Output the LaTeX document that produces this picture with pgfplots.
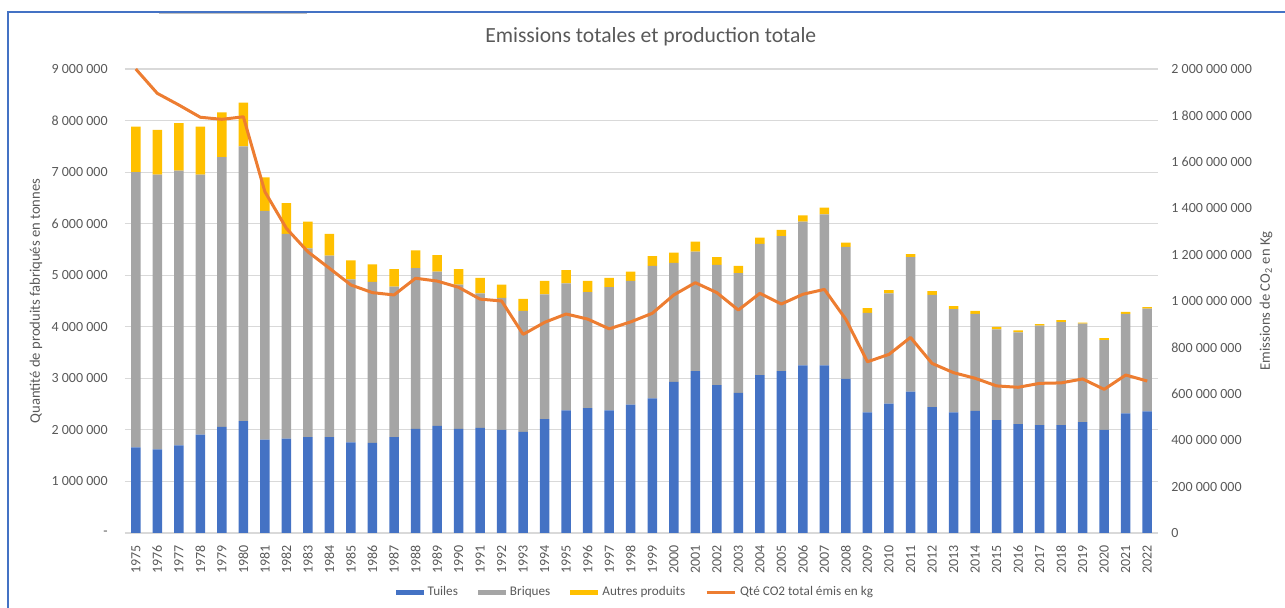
\documentclass[border=0pt]{standalone}
\usepackage{fontspec}
\setmainfont{Carlito}
\usepackage{pgfplots}
\usepackage{pgfplotstable}
\pgfplotsset{compat=1.18}

\definecolor{tuiles}{HTML}{4472C4}
\definecolor{briques}{HTML}{A5A5A5}
\definecolor{autres}{HTML}{FFC000}
\definecolor{co2}{HTML}{ED7D31}
\definecolor{txt}{HTML}{595959}
\definecolor{gridc}{HTML}{D9D9D9}
\definecolor{frame}{HTML}{4472C4}

% production in millions of tonnes, emissions in millions of kg
\pgfplotstableread{
year tuiles briques autres co2
1975 1.66 5.34 0.88 2000
1976 1.62 5.33 0.87 1895
1977 1.70 5.33 0.92 1845
1978 1.91 5.04 0.93 1792
1979 2.06 5.23 0.87 1783
1980 2.17 5.33 0.85 1794
1981 1.81 4.44 0.65 1471
1982 1.83 3.97 0.60 1313
1983 1.86 3.66 0.52 1212
1984 1.86 3.52 0.42 1141
1985 1.76 3.16 0.37 1069
1986 1.75 3.12 0.34 1036
1987 1.86 2.92 0.34 1026
1988 2.02 3.12 0.34 1098
1989 2.08 2.99 0.32 1086
1990 2.02 2.80 0.30 1059
1991 2.04 2.61 0.30 1008
1992 2.00 2.56 0.26 1000
1993 1.96 2.35 0.23 856
1994 2.21 2.42 0.26 908
1995 2.38 2.46 0.26 944
1996 2.42 2.25 0.22 922
1997 2.38 2.39 0.18 880
1998 2.49 2.40 0.18 910
1999 2.61 2.57 0.19 947
2000 2.93 2.31 0.20 1026
2001 3.14 2.32 0.19 1079
2002 2.87 2.33 0.15 1036
2003 2.72 2.32 0.14 961
2004 3.06 2.55 0.12 1033
2005 3.14 2.62 0.12 987
2006 3.25 2.79 0.12 1029
2007 3.25 2.93 0.13 1050
2008 2.99 2.56 0.08 920
2009 2.34 1.93 0.09 738
2010 2.51 2.14 0.06 770
2011 2.74 2.61 0.06 843
2012 2.44 2.18 0.07 731
2013 2.34 2.00 0.06 691
2014 2.37 1.88 0.06 667
2015 2.19 1.76 0.05 634
2016 2.11 1.78 0.04 628
2017 2.09 1.93 0.03 645
2018 2.09 2.00 0.04 647
2019 2.15 1.91 0.02 664
2020 2.00 1.74 0.04 619
2021 2.32 1.93 0.04 681
2022 2.36 1.99 0.03 655
}\data

\pgfplotsset{
  base/.style={
    scale only axis, width=516.5pt, height=232pt,
    at={(62.5pt,37.5pt)}, anchor=south west,
    xmin=1974.5, xmax=2022.5,
    major tick length=0pt,
    axis line style={draw=none},
    tick label style={font=\fontsize{7}{8}\selectfont, text=txt},
    label style={font=\fontsize{7.3}{9}\selectfont, text=txt},
    /pgf/number format/set thousands separator={},
    /pgf/number format/assume math mode=true,
  },
  barleg/.style={legend image code/.code={\fill[##1] (0pt,-1.3pt) rectangle (14pt,1.3pt);}},
  lineleg/.style={legend image code/.code={\draw[##1] (0pt,0pt) -- (14pt,0pt);}},
}

\begin{document}
\begin{tikzpicture}
\useasboundingbox (0,0) rectangle (642.5pt,304pt);
\draw[gray!50, line width=0.8pt] (79.5pt,297.2pt) -- (153.5pt,297.2pt);
\draw[frame, line width=0.8pt] (4pt,0pt) -- (4pt,298pt) -- (642.5pt,298pt);

\begin{axis}[base,
  ybar stacked, bar width=4.75pt,
  ymin=0, ymax=9, clip=false,
  ytick={0,1,...,9},
  yticklabels={-,1 000 000,2 000 000,3 000 000,4 000 000,5 000 000,6 000 000,7 000 000,8 000 000,9 000 000},
  yticklabel style={inner sep=0pt, anchor=east, xshift=-8.5pt},
  xtick=data,
  xticklabel style={yshift=-6pt, rotate=90, anchor=east, inner sep=0pt},
  ymajorgrids, grid style={gridc, line width=0.6pt},
  ylabel={Quantité de produits fabriqués en tonnes},
  ylabel style={at={(axis description cs:-0.0862,0.5)}, anchor=center},
  legend columns=4,
  legend style={at={(axis description cs:0.495,-0.129)}, anchor=center,
    draw=none, fill=none, font=\fontsize{6.6}{8}\selectfont, text=txt,
    /tikz/every even column/.append style={column sep=8pt}},
  legend cell align=left,
]
\addplot[fill=tuiles, draw=none, barleg] table[x=year, y=tuiles] {\data};
\addplot[fill=briques, draw=none, barleg] table[x=year, y=briques] {\data};
\addplot[fill=autres, draw=none, barleg] table[x=year, y=autres] {\data};
\addlegendimage{co2, line width=1.4pt, lineleg}
\legend{Tuiles, Briques, Autres produits, Qté CO2 total émis en kg}
\node[font=\fontsize{10.8}{13}\selectfont, text=txt, anchor=center]
  at (axis description cs:0.509,1.069) {Emissions totales et production totale};
\end{axis}

\begin{axis}[base,
  ymin=0, ymax=2000,
  axis y line*=right, axis x line=none,
  ytick={0,200,...,2000},
  yticklabels={0,200 000 000,400 000 000,600 000 000,800 000 000,1 000 000 000,1 200 000 000,1 400 000 000,1 600 000 000,1 800 000 000,2 000 000 000},
  yticklabel style={inner sep=0pt, anchor=west, xshift=6.5pt},
  ylabel={Emissions de CO\textsubscript{2} en Kg},
  ylabel style={at={(axis description cs:1.1046,0.5)}, anchor=center, rotate=0},
  clip=false,
]
\addplot[co2, line width=1.5pt, line join=round, mark=none] table[x=year, y=co2] {\data};
\end{axis}
\end{tikzpicture}
\end{document}
